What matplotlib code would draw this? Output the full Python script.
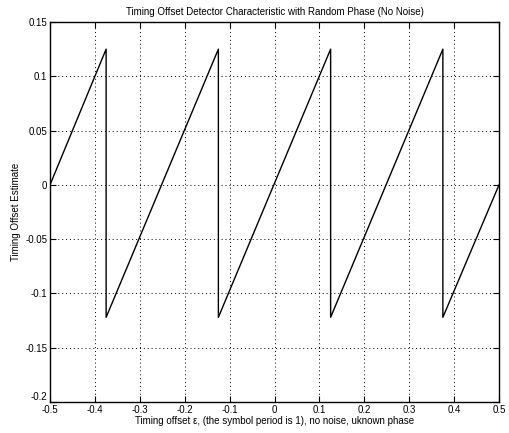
"""
Timing offset detector characteristic (random phase, no noise).
"""
import matplotlib
matplotlib.use('Agg')
import matplotlib.pyplot as plt

matplotlib.rcParams.update({'font.size': 7, 'font.family': 'Liberation Sans'})

# sawtooth vertices
offset = [-0.5, -0.375, -0.375, -0.125, -0.125, 0.125, 0.125, 0.375, 0.375, 0.5]
estimate = [0.0, 0.125, -0.122, 0.125, -0.122, 0.125, -0.122, 0.125, -0.122, 0.0]

xticks = [-0.5, -0.4, -0.3, -0.2, -0.1, 0, 0.1, 0.2, 0.3, 0.4, 0.5]
xlabels = ['-0.5', '-0.4', '-0.3', '-0.2', '-0.1', '0', '0.1', '0.2', '0.3', '0.4', '0.5']
yticks = [-0.2, -0.15, -0.1, -0.05, 0, 0.05, 0.1, 0.15]
ylabels = ['-0.2', '-0.15', '-0.1', '-0.05', '0', '0.05', '0.1', '0.15']

fig = plt.figure(figsize=(5.09, 4.33), dpi=100)
ax = fig.add_axes([50/509, 1 - 402/433, 449/509, 380/433])
ax.plot(offset, estimate, color='black', linewidth=1.0)

ax.set_xlim(-0.5, 0.5)
ax.set_ylim(-0.2, 0.15)
ax.set_xticks(xticks)
ax.set_yticks(yticks)
ax.set_xticklabels(xlabels)
ax.set_yticklabels(ylabels)
ax.tick_params(direction='in', length=4, width=0.8, pad=2)
ax.tick_params(top=True, right=True)
ax.grid(True, color='black', linestyle=(0, (1, 3)), linewidth=0.7)
for s in ax.spines.values():
    s.set_linewidth(1.0)

# bottom y label sits a little higher so it clears the -0.5 below it
ax.get_yticklabels()[0].set_verticalalignment('bottom')

ax.set_title('Timing Offset Detector Characteristic with Random Phase (No Noise)', fontsize=7, pad=5)
ax.set_xlabel('Timing offset \u03b5, (the symbol period is 1), no noise, uknown phase', labelpad=1)
ax.set_ylabel('Timing Offset Estimate', labelpad=3)

fig.savefig('out.png', dpi=100)
